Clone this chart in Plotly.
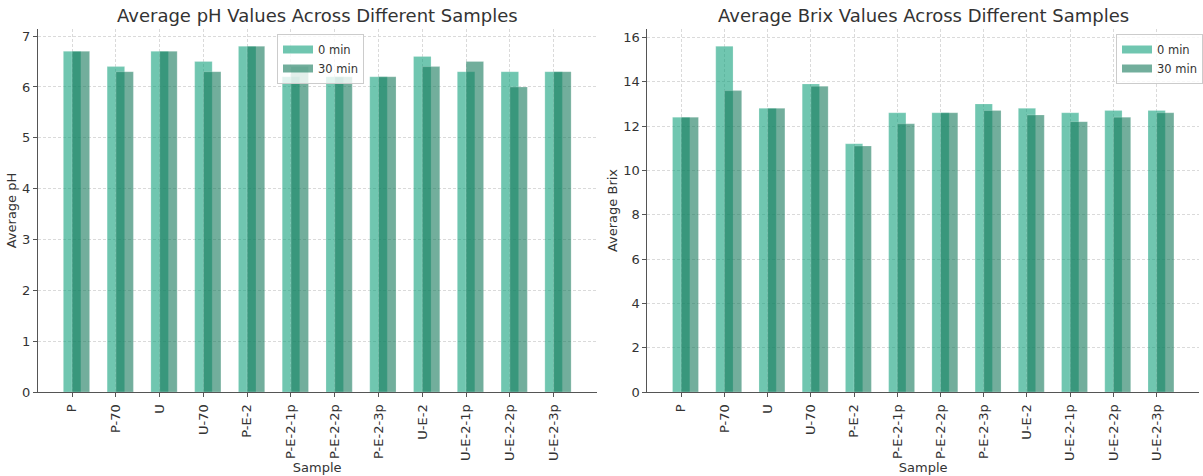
import plotly.graph_objects as go
from plotly.subplots import make_subplots

samples = ["P", "P-70", "U", "U-70", "P-E-2", "P-E-2-1p", "P-E-2-2p",
           "P-E-2-3p", "U-E-2", "U-E-2-1p", "U-E-2-2p", "U-E-2-3p"]

ph_0min = [6.7, 6.4, 6.7, 6.5, 6.8, 6.2, 6.2, 6.2, 6.6, 6.3, 6.3, 6.3]
ph_30min = [6.7, 6.3, 6.7, 6.3, 6.8, 6.4, 6.2, 6.2, 6.4, 6.5, 6.0, 6.3]

brix_0min = [12.4, 15.6, 12.8, 13.9, 11.2, 12.6, 12.6, 13.0, 12.8, 12.6, 12.7, 12.7]
brix_30min = [12.4, 13.6, 12.8, 13.8, 11.1, 12.1, 12.6, 12.7, 12.5, 12.2, 12.4, 12.6]

series_names = ["0 min", "30 min"]

FONT = "DejaVu Sans"
TEXT = "#333333"
C0 = "rgba(17,160,123,0.6)"
C30 = "rgba(20,120,90,0.6)"
EDGE = "rgba(255,255,255,0.35)"
BAR_W = 0.4

fig = make_subplots(rows=1, cols=2, horizontal_spacing=0.04)

for col, (v0, v30, leg) in enumerate(
        [(ph_0min, ph_30min, "legend"), (brix_0min, brix_30min, "legend2")], start=1):
    fig.add_trace(go.Bar(x=samples, y=v0, name=series_names[0], width=BAR_W, offset=-BAR_W / 2,
                         marker=dict(color=C0, line=dict(color=EDGE, width=0.6)),
                         showlegend=False), row=1, col=col)
    fig.add_trace(go.Bar(x=samples, y=v30, name=series_names[1], width=BAR_W, offset=0,
                         marker=dict(color=C30, line=dict(color=EDGE, width=0.6)),
                         showlegend=False), row=1, col=col)
    # legend entries drawn as wide swatches
    for name, c in zip(series_names, [C0, C30]):
        fig.add_trace(go.Scatter(x=[None], y=[None], mode="lines", name=name,
                                 line=dict(color=c, width=8), legend=leg,
                                 hoverinfo="skip"), row=1, col=col)

axis_common = dict(
    showline=True, linecolor="#555555", linewidth=1.2,
    ticks="outside", ticklen=4, tickcolor="#555555",
    showgrid=True, gridcolor="#dadada", griddash="3px,2px", gridwidth=0.8,
    tickfont=dict(family=FONT, size=13, color=TEXT),
    zeroline=False, mirror=False, automargin=False,
)

y_dom = [1 - 392 / 476, 1 - 29 / 476]
fig.update_xaxes(**axis_common, tickangle=-90, range=[-0.78, 11.98], ticklabelstandoff=2,
                 title=dict(text="Sample", font=dict(family=FONT, size=13, color=TEXT), standoff=2))
fig.update_yaxes(**axis_common, domain=y_dom)
fig.update_xaxes(domain=[38 / 1203, 597 / 1203], row=1, col=1)
fig.update_xaxes(domain=[648 / 1203, 1200 / 1203], row=1, col=2)
fig.update_yaxes(range=[0, 7.14], dtick=1, row=1, col=1,
                 title=dict(text="Average pH", font=dict(family=FONT, size=13, color=TEXT), standoff=2))
fig.update_yaxes(range=[0, 16.38], dtick=2, row=1, col=2,
                 title=dict(text="Average Brix", font=dict(family=FONT, size=13, color=TEXT), standoff=2))

legend_common = dict(
    bgcolor="rgba(255,255,255,0.8)", bordercolor="#cccccc", borderwidth=1,
    font=dict(family=FONT, size=11.5, color=TEXT),
    xanchor="left", yanchor="top", yref="paper", xref="paper",
    tracegroupgap=0,
)

titles = ["Average pH Values Across Different Samples",
          "Average Brix Values Across Different Samples"]
centers = [(38 + 597) / 2 / 1203, (648 + 1200) / 2 / 1203]

fig.update_layout(
    width=1203, height=476,
    margin=dict(l=0, r=0, t=0, b=0),
    plot_bgcolor="white", paper_bgcolor="white",
    barmode="overlay",
    font=dict(family=FONT, color=TEXT),
    legend=dict(**legend_common, x=277 / 1203, y=1 - 34 / 476),
    legend2=dict(**legend_common, x=1117 / 1203, y=1 - 34 / 476),
    annotations=[
        dict(text=t, x=cx, y=1 - 16 / 476, xref="paper", yref="paper",
             xanchor="center", yanchor="middle", showarrow=False,
             font=dict(family=FONT, size=18, color=TEXT))
        for t, cx in zip(titles, centers)
    ],
)

fig.write_html("out.html")
